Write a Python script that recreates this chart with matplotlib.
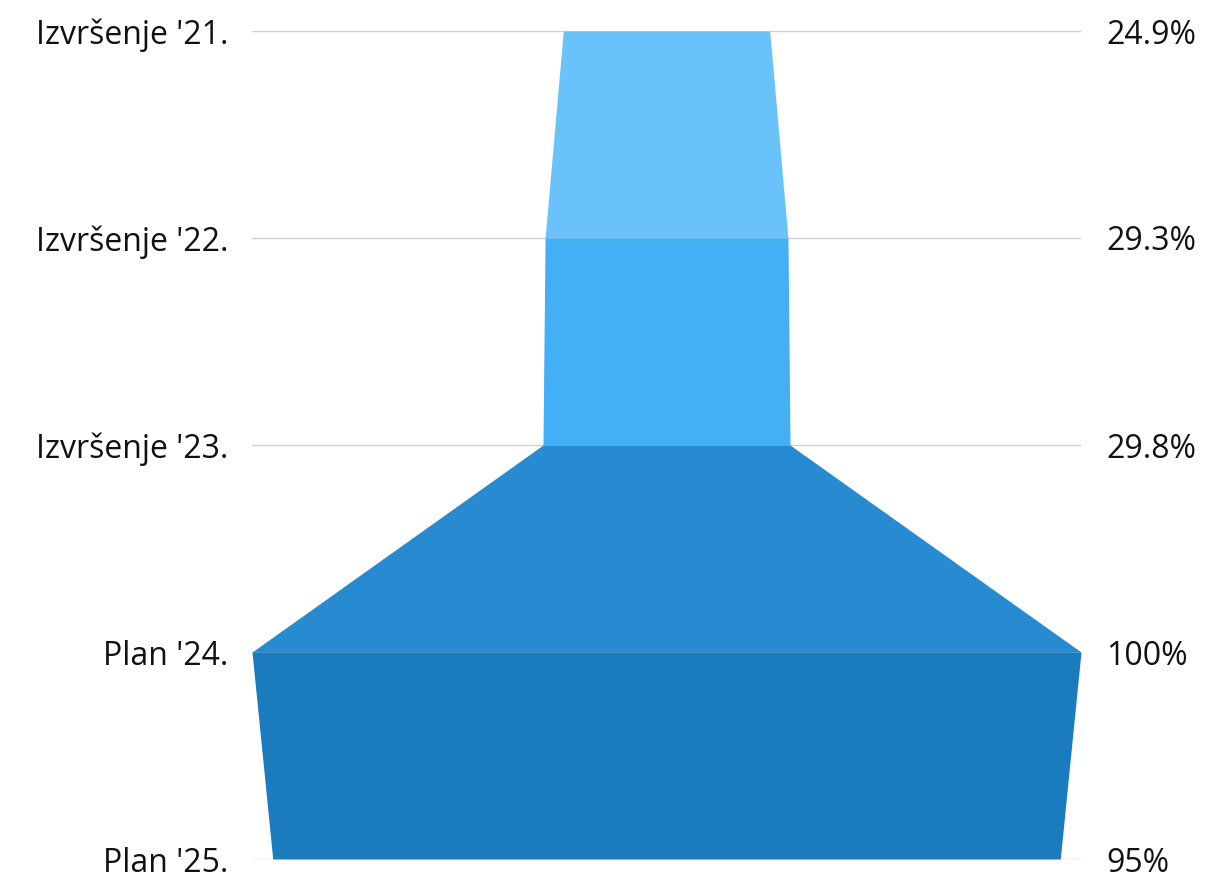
import matplotlib.pyplot as plt

stages = ["Izvršenje '21.", "Izvršenje '22.", "Izvršenje '23.", "Plan '24.", "Plan '25."]
values = [24.9, 29.3, 29.8, 100, 95]
value_labels = ['24.9%', '29.3%', '29.8%', '100%', '95%']
colors = ['#6AC2FB', '#43AFF5', '#268BD0', '#1A7CBD']

plt.rcParams['font.family'] = ['Open Sans', 'DejaVu Sans']

fig = plt.figure(figsize=(12.31, 8.72), dpi=100)
ax = fig.add_axes([252 / 1231, 1 - 859 / 872, (1081 - 252) / 1231, (859 - 31) / 872])

ypos = list(range(len(values)))
for i in range(len(values) - 1):
    half = [values[i] / 2, values[i + 1] / 2]
    ax.fill_betweenx(ypos[i:i + 2], [-h for h in half], half,
                     color=colors[i], linewidth=0, zorder=2)

for y in ypos:
    ax.axhline(y, color='#d0d0d0', linewidth=1, zorder=1)

ax.set_xlim(-50, 50)
ax.set_ylim(len(values) - 1, 0)
ax.set_xticks([])
ax.set_yticks(ypos)
ax.set_yticklabels(stages, fontsize=23, color='#111111')
ax.tick_params(axis='y', length=0, pad=17)

right = ax.secondary_yaxis('right')
right.set_yticks(ypos)
right.set_yticklabels(value_labels, fontsize=23, color='#111111')
right.tick_params(axis='y', length=0, pad=18)
right.spines['right'].set_visible(False)

for s in ax.spines.values():
    s.set_visible(False)

fig.savefig('out.png', dpi=100)
